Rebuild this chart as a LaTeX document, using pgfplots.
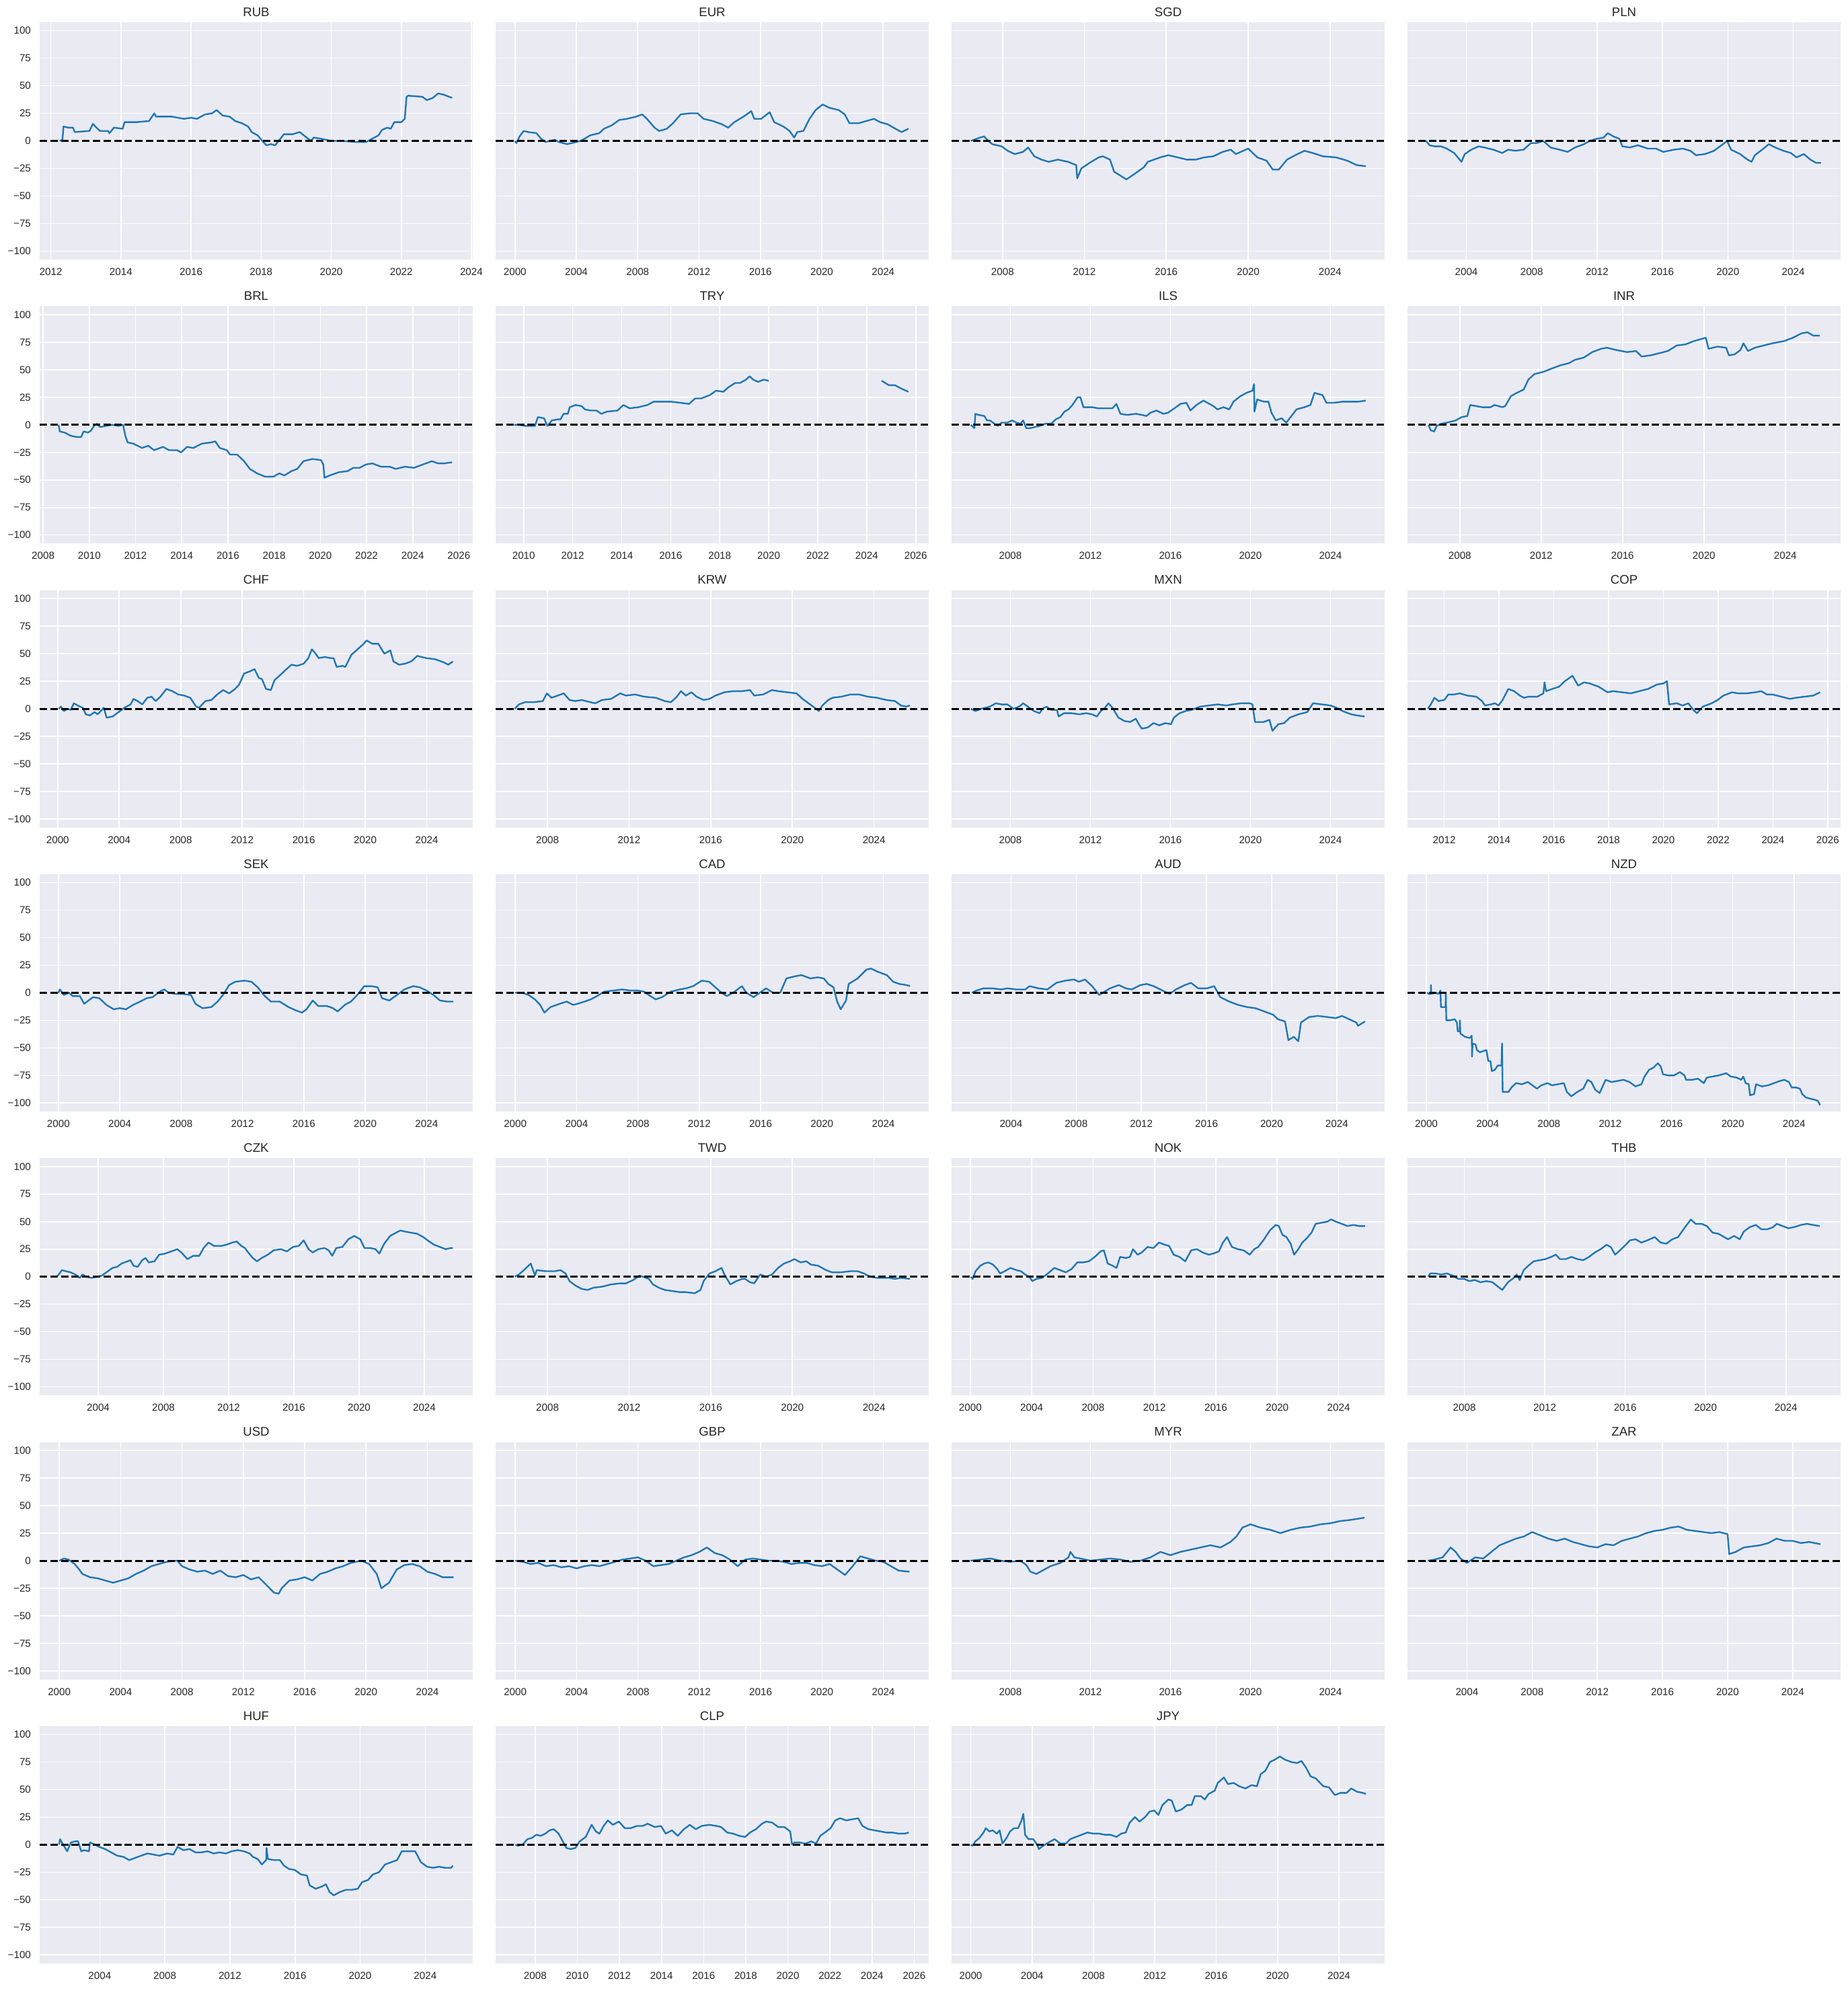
\documentclass[border=0pt]{standalone}
\usepackage{fontspec}
\setmainfont{Liberation Sans}
\usepackage{pgfplots}
\pgfplotsset{compat=1.18}
\definecolor{bgc}{HTML}{EAEAF2}
\definecolor{tickc}{HTML}{262626}
\definecolor{lineblue}{HTML}{1F77B4}
\pgfplotsset{
 panel/.style={
  scale only axis, width=322pt, height=176.5pt, anchor=north west,
  ymin=-107.7, ymax=107.7, ytick={-100,-75,-50,-25,0,25,50,75,100},
  axis background/.style={fill=bgc},
  axis line style={draw=none},
  major tick length=0pt,
  xmajorgrids, ymajorgrids, major grid style={white, line width=0.8pt},
  tick label style={font=\fontsize{7.6}{8}\selectfont, text=tickc},
  scaled x ticks=false,
  xticklabel style={/pgf/number format/1000 sep={}, /pgf/number format/assume math mode=true, yshift=-3pt},
  yticklabel style={xshift=-3pt},
  every axis title shift=0pt,
  title style={font=\fontsize{9.3}{10}\selectfont, text=tickc, at={(0.5,1)}, anchor=base, yshift=4.4pt},
  unbounded coords=jump,
 },
 ylab/.style={yticklabels={−100,−75,−50,−25,0,25,50,75,100}},
 noylab/.style={yticklabels={}},
 series/.style={lineblue, line width=1.2pt, line join=round, mark=none},
 zero/.style={black, line width=1.5pt, dash pattern=on 5.5pt off 2.4pt, mark=none},
}
\begin{document}
\begin{tikzpicture}
\path[use as bounding box] (0,0) rectangle (1373.5pt,-1479pt);
% ---------- Row 1 ----------
\begin{axis}[panel, ylab, at={(29.5pt,-16.5pt)}, title={RUB}, xmin=2011.68, xmax=2024.04, xtick={2012,2014,2016,2018,2020,2022,2024}]
\addplot[series] coordinates {(2012.25,0) (2012.33,1) (2012.36,13) (2012.5,12) (2012.63,12) (2012.68,8) (2013.1,9) (2013.2,15.5) (2013.27,13) (2013.4,9) (2013.63,9) (2013.67,7) (2013.8,12) (2014.05,11) (2014.1,17) (2014.45,17) (2014.8,18) (2014.95,25) (2015.0,22) (2015.45,22) (2015.8,20) (2016.0,21) (2016.17,20) (2016.4,24) (2016.6,25) (2016.73,28) (2016.9,23) (2017.1,22) (2017.26,18) (2017.45,16) (2017.63,13) (2017.73,8) (2017.9,5) (2018.06,-1) (2018.15,-4) (2018.28,-3) (2018.4,-4) (2018.5,0) (2018.65,6) (2018.9,6) (2019.1,8) (2019.3,3) (2019.42,0) (2019.5,3) (2019.7,2) (2020.0,0) (2020.3,0) (2020.7,-1) (2021.0,-1) (2021.17,2) (2021.35,5) (2021.45,10) (2021.6,12) (2021.7,11) (2021.8,17) (2022.0,17) (2022.1,20) (2022.15,40) (2022.2,41) (2022.6,40) (2022.73,37) (2022.9,39) (2023.05,43) (2023.2,42) (2023.45,39)};
\addplot[zero] coordinates {(2011.68,0) (2024.04,0)};
\end{axis}
\begin{axis}[panel, noylab, at={(368.5pt,-16.5pt)}, title={EUR}, xmin=1998.74, xmax=2026.97, xtick={2000,2004,2008,2012,2016,2020,2024}]
\addplot[series] coordinates {(2000.0,0) (2000.1,-2) (2000.3,4) (2000.57,9) (2000.86,8) (2001.4,7) (2001.7,2) (2002.0,-1) (2002.6,1) (2002.86,-1) (2003.4,-3) (2003.7,-2) (2004.3,0) (2004.9,5) (2005.5,7) (2005.8,11) (2006.3,14) (2006.8,19) (2007.3,20) (2007.9,22) (2008.3,24) (2008.6,20) (2009.1,12) (2009.4,9) (2009.9,11) (2010.3,16) (2010.8,24) (2011.4,25) (2011.9,25) (2012.3,20) (2012.9,18) (2013.5,15) (2013.9,12) (2014.3,17) (2014.9,22) (2015.4,27) (2015.6,20) (2016.05,20) (2016.6,26) (2016.9,17) (2017.5,13) (2017.9,9) (2018.2,3) (2018.4,8) (2018.8,9) (2019.2,20) (2019.6,28) (2020.05,33) (2020.5,30) (2021.1,28) (2021.5,24) (2021.8,16) (2022.4,16) (2022.9,18) (2023.4,20) (2023.8,17) (2024.3,15) (2024.8,11) (2025.2,8) (2025.65,11)};
\addplot[zero] coordinates {(1998.74,0) (2026.97,0)};
\end{axis}
\begin{axis}[panel, noylab, at={(707.5pt,-16.5pt)}, title={SGD}, xmin=2005.51, xmax=2026.67, xtick={2008,2012,2016,2020,2024}]
\addplot[series] coordinates {(2006.45,0) (2006.9,3) (2007.1,4) (2007.3,0) (2007.5,-3) (2007.96,-5) (2008.25,-9) (2008.6,-12) (2009.0,-10) (2009.25,-6) (2009.55,-14) (2009.9,-17) (2010.25,-19) (2010.7,-17) (2011.2,-19) (2011.6,-22) (2011.65,-34) (2011.85,-25) (2012.25,-20) (2012.7,-15) (2012.9,-14) (2013.25,-17) (2013.45,-28) (2013.8,-32) (2014.05,-35) (2014.45,-30) (2014.9,-24) (2015.1,-19) (2015.4,-17) (2015.7,-15) (2016.1,-13) (2016.56,-15) (2017.0,-17) (2017.45,-17) (2017.85,-15) (2018.3,-14) (2018.75,-10) (2019.15,-8) (2019.4,-12) (2020.0,-7) (2020.45,-15) (2020.9,-18) (2021.2,-26) (2021.5,-26) (2021.9,-17) (2022.3,-13) (2022.75,-9) (2023.15,-11) (2023.65,-14) (2024.3,-15) (2024.85,-18) (2025.3,-22) (2025.75,-23)};
\addplot[zero] coordinates {(2005.51,0) (2026.67,0)};
\end{axis}
\begin{axis}[panel, noylab, at={(1046.5pt,-16.5pt)}, title={PLN}, xmin=2000.4, xmax=2026.9, xtick={2004,2008,2012,2016,2020,2024}]
\addplot[series] coordinates {(2001.53,0) (2001.75,-4) (2002.07,-5) (2002.45,-5) (2002.8,-7) (2003.25,-11) (2003.7,-19) (2003.9,-12) (2004.3,-8) (2004.75,-5) (2005.1,-6) (2005.65,-8) (2006.2,-11) (2006.55,-8) (2007.0,-9) (2007.5,-8) (2007.95,-2) (2008.3,-2) (2008.7,0) (2009.15,-6) (2009.7,-8) (2010.2,-10) (2010.65,-6) (2011.2,-3) (2011.55,0) (2012.0,2) (2012.4,3) (2012.65,7) (2013.0,4) (2013.35,2) (2013.55,-5) (2014.0,-6) (2014.5,-4) (2015.1,-7) (2015.6,-7) (2016.05,-10) (2016.7,-8) (2017.25,-7) (2017.7,-9) (2018.05,-13) (2018.6,-12) (2019.15,-9) (2019.7,-3) (2019.95,0) (2020.2,-8) (2020.75,-12) (2021.2,-17) (2021.45,-19) (2021.65,-13) (2022.1,-8) (2022.5,-3) (2022.9,-6) (2023.4,-9) (2023.85,-11) (2024.2,-15) (2024.65,-12) (2025.05,-17) (2025.4,-20) (2025.7,-20)};
\addplot[zero] coordinates {(2000.4,0) (2026.9,0)};
\end{axis}
% ---------- Row 2 ----------
\begin{axis}[panel, ylab, at={(29.5pt,-227.65pt)}, title={BRL}, xmin=2007.85, xmax=2026.6, xtick={2008,2010,2012,2014,2016,2018,2020,2022,2024,2026}]
\addplot[series] coordinates {(2008.67,0) (2008.72,-6) (2008.93,-7) (2009.2,-10) (2009.45,-11) (2009.65,-11) (2009.75,-6) (2009.95,-7) (2010.08,-5) (2010.2,-1) (2010.33,1) (2010.46,-2) (2010.72,-1) (2011.0,0) (2011.25,-1) (2011.46,0) (2011.56,-10) (2011.66,-16) (2011.9,-17) (2012.28,-21) (2012.55,-19) (2012.8,-23) (2013.19,-20) (2013.45,-23) (2013.8,-23) (2013.97,-25) (2014.23,-20) (2014.5,-21) (2014.88,-17) (2015.27,-16) (2015.45,-15) (2015.65,-21) (2015.95,-23) (2016.1,-27) (2016.4,-27) (2016.7,-33) (2016.95,-40) (2017.26,-44) (2017.6,-47) (2017.97,-47) (2018.23,-44) (2018.44,-46) (2018.75,-42) (2019.0,-40) (2019.27,-33) (2019.65,-31) (2020.03,-32) (2020.13,-36) (2020.18,-48) (2020.4,-46) (2020.8,-43) (2021.18,-42) (2021.43,-39) (2021.7,-39) (2021.97,-36) (2022.25,-35) (2022.63,-38) (2023.0,-38) (2023.27,-40) (2023.66,-38) (2024.05,-39) (2024.44,-36) (2024.83,-33) (2025.1,-35) (2025.35,-35) (2025.7,-34)};
\addplot[zero] coordinates {(2007.85,0) (2026.6,0)};
\end{axis}
\begin{axis}[panel, noylab, at={(368.5pt,-227.65pt)}, title={TRY}, xmin=2008.855, xmax=2026.53, xtick={2010,2012,2014,2016,2018,2020,2022,2024,2026}]
\addplot[series] coordinates {(2009.61,0) (2009.8,0) (2010.05,-1) (2010.3,-1) (2010.46,-1) (2010.58,7) (2010.83,6) (2010.97,-1) (2011.15,4) (2011.4,5) (2011.5,5) (2011.63,10) (2011.8,10) (2011.88,16) (2012.12,18) (2012.36,17) (2012.5,14) (2012.73,13) (2012.97,13) (2013.17,10) (2013.4,12) (2013.83,13) (2014.07,18) (2014.32,15) (2014.68,16) (2015.05,18) (2015.3,21) (2015.66,21) (2016.02,21) (2016.39,20) (2016.75,19) (2017.0,24) (2017.25,24) (2017.6,27) (2017.85,31) (2018.15,30) (2018.35,34) (2018.63,38) (2018.83,38) (2019.07,41) (2019.22,44) (2019.37,41) (2019.56,39) (2019.8,41) (2020.0,40) (2022.0,nan) (2024.61,40) (2024.9,36) (2025.15,36) (2025.4,33) (2025.7,30)};
\addplot[zero] coordinates {(2008.855,0) (2026.53,0)};
\end{axis}
\begin{axis}[panel, noylab, at={(707.5pt,-227.65pt)}, title={ILS}, xmin=2005.06, xmax=2026.71, xtick={2008,2012,2016,2020,2024}]
\addplot[series] coordinates {(2006.02,0) (2006.2,-3) (2006.25,10) (2006.4,9) (2006.7,8) (2006.83,4) (2006.98,4) (2007.13,2) (2007.36,-1) (2007.56,2) (2007.85,2) (2008.09,4) (2008.3,2) (2008.5,1) (2008.64,4) (2008.79,-3) (2009.0,-3) (2009.22,-2) (2009.46,-1) (2009.75,1) (2010.04,1) (2010.27,5) (2010.5,7) (2010.7,12) (2010.9,14) (2011.1,18) (2011.36,25) (2011.5,25) (2011.65,16) (2011.85,16) (2012.09,16) (2012.38,15) (2012.8,15) (2013.1,15) (2013.3,19) (2013.5,10) (2013.84,9) (2014.28,10) (2014.57,9) (2014.8,8) (2015.0,11) (2015.3,13) (2015.65,10) (2015.88,11) (2016.2,15) (2016.5,19) (2016.8,20) (2017.0,13) (2017.3,18) (2017.65,22) (2017.95,19) (2018.15,17) (2018.35,14) (2018.65,16) (2018.94,14) (2019.15,21) (2019.5,26) (2019.8,29) (2020.1,31) (2020.18,37) (2020.2,12) (2020.33,23) (2020.68,21) (2020.9,21) (2021.05,11) (2021.27,4) (2021.56,6) (2021.79,2) (2022.05,8) (2022.3,14) (2022.7,16) (2023.0,18) (2023.2,29) (2023.6,27) (2023.8,20) (2024.18,20) (2024.6,21) (2025.05,21) (2025.4,21) (2025.76,22)};
\addplot[zero] coordinates {(2005.06,0) (2026.71,0)};
\end{axis}
\begin{axis}[panel, noylab, at={(1046.5pt,-227.65pt)}, title={INR}, xmin=2005.43, xmax=2026.72, xtick={2008,2012,2016,2020,2024}]
\addplot[series] coordinates {(2006.46,0) (2006.57,-5) (2006.74,-6) (2006.86,-1) (2007.09,1) (2007.37,2) (2007.8,4) (2008.09,7) (2008.37,8) (2008.51,18) (2008.8,17) (2009.09,16) (2009.51,16) (2009.71,18) (2010.09,16) (2010.23,17) (2010.51,26) (2010.8,29) (2011.14,32) (2011.37,41) (2011.66,46) (2012.09,48) (2012.51,51) (2012.94,54) (2013.37,56) (2013.66,59) (2014.09,61) (2014.51,66) (2014.94,69) (2015.23,70) (2015.66,68) (2016.23,66) (2016.66,67) (2016.94,62) (2017.37,63) (2017.8,65) (2018.23,67) (2018.66,72) (2019.09,73) (2019.51,76) (2019.89,78) (2020.09,79) (2020.23,69) (2020.66,71) (2021.09,70) (2021.23,63) (2021.51,64) (2021.8,68) (2021.94,74) (2022.17,67) (2022.51,70) (2022.94,72) (2023.37,74) (2023.94,76) (2024.37,79) (2024.8,83) (2025.09,84) (2025.37,81) (2025.7,81)};
\addplot[zero] coordinates {(2005.43,0) (2026.72,0)};
\end{axis}
% ---------- Row 3 ----------
\begin{axis}[panel, ylab, at={(29.5pt,-438.8pt)}, title={CHF}, xmin=1998.83, xmax=2026.99, xtick={2000,2004,2008,2012,2016,2020,2024}]
\addplot[series] coordinates {(2000.08,0) (2000.2,2) (2000.4,-2) (2000.66,0) (2000.85,-1) (2001.05,5) (2001.44,2) (2001.63,1) (2001.83,-5) (2002.1,-6) (2002.4,-3) (2002.6,-5) (2003.0,1) (2003.18,-8) (2003.57,-7) (2003.96,-3) (2004.35,1) (2004.74,4) (2004.93,9) (2005.2,7) (2005.5,4) (2005.83,10) (2006.1,11) (2006.37,7) (2006.68,11) (2007.07,18) (2007.46,16) (2007.84,13) (2008.23,12) (2008.62,10) (2009.0,2) (2009.2,1) (2009.6,7) (2010.0,8) (2010.37,13) (2010.76,17) (2011.15,14) (2011.53,18) (2011.8,22) (2012.12,32) (2012.5,34) (2012.8,36) (2013.08,28) (2013.28,27) (2013.55,18) (2013.86,17) (2014.1,26) (2014.5,31) (2014.8,35) (2015.2,40) (2015.57,39) (2016.0,41) (2016.3,46) (2016.53,54) (2016.77,50) (2016.97,46) (2017.36,47) (2017.75,46) (2017.94,46) (2018.14,38) (2018.52,39) (2018.7,38) (2019.1,49) (2019.5,54) (2019.9,59) (2020.08,62) (2020.47,59) (2020.85,59) (2021.24,50) (2021.63,53) (2021.83,43) (2022.2,40) (2022.6,41) (2022.99,43) (2023.38,48) (2023.96,46) (2024.54,45) (2025.13,42) (2025.4,40) (2025.7,43)};
\addplot[zero] coordinates {(1998.83,0) (2026.99,0)};
\end{axis}
\begin{axis}[panel, noylab, at={(368.5pt,-438.8pt)}, title={KRW}, xmin=2005.46, xmax=2026.68, xtick={2008,2012,2016,2020,2024}]
\addplot[series] coordinates {(2006.4,0) (2006.6,4) (2006.9,6) (2007.33,6) (2007.77,7) (2007.97,14) (2008.2,10) (2008.5,12) (2008.8,14) (2009.08,8) (2009.37,7) (2009.67,8) (2010.1,6) (2010.34,5) (2010.68,8) (2011.12,9) (2011.56,14) (2011.85,12) (2012.3,13) (2012.73,11) (2013.32,10) (2013.75,7) (2014.05,6) (2014.34,11) (2014.54,16) (2014.78,12) (2015.06,15) (2015.3,11) (2015.65,8) (2015.94,9) (2016.23,12) (2016.67,15) (2017.1,16) (2017.54,16) (2017.92,17) (2018.13,12) (2018.57,13) (2019.0,17) (2019.3,16) (2019.74,15) (2020.2,14) (2020.5,9) (2020.94,3) (2021.3,-2) (2021.47,3) (2021.76,8) (2021.96,10) (2022.4,11) (2022.84,13) (2023.27,13) (2023.7,11) (2024.15,10) (2024.6,8) (2025.03,7) (2025.32,3) (2025.56,2) (2025.76,3)};
\addplot[zero] coordinates {(2005.46,0) (2026.68,0)};
\end{axis}
\begin{axis}[panel, noylab, at={(707.5pt,-438.8pt)}, title={MXN}, xmin=2005.06, xmax=2026.71, xtick={2008,2012,2016,2020,2024}]
\addplot[series] coordinates {(2006.02,0) (2006.25,-2) (2006.54,0) (2006.98,2) (2007.27,5) (2007.56,4) (2007.85,4) (2008.15,0) (2008.44,2) (2008.64,5) (2008.87,2) (2009.17,-2) (2009.46,-4) (2009.6,0) (2009.8,2) (2010.04,-1) (2010.33,-1) (2010.41,-7) (2010.68,-4) (2011.05,-4) (2011.44,-5) (2011.79,-4) (2012.08,-5) (2012.32,-7) (2012.52,-2) (2012.73,1) (2012.9,5) (2013.1,1) (2013.4,-8) (2013.69,-11) (2013.98,-12) (2014.27,-9) (2014.42,-14) (2014.57,-18) (2014.86,-17) (2015.15,-13) (2015.45,-15) (2015.74,-13) (2016.03,-14) (2016.17,-8) (2016.46,-4) (2016.76,-2) (2017.05,-1) (2017.49,2) (2017.92,3) (2018.36,4) (2018.8,3) (2019.1,4) (2019.53,5) (2019.97,5) (2020.1,4) (2020.23,-12) (2020.66,-12) (2020.95,-10) (2021.1,-20) (2021.39,-14) (2021.68,-13) (2021.97,-8) (2022.4,-5) (2022.84,-3) (2023.13,5) (2023.57,4) (2024.0,3) (2024.3,1) (2024.6,-2) (2025.03,-5) (2025.32,-6) (2025.7,-7)};
\addplot[zero] coordinates {(2005.06,0) (2026.71,0)};
\end{axis}
\begin{axis}[panel, noylab, at={(1046.5pt,-438.8pt)}, title={COP}, xmin=2010.66, xmax=2026.47, xtick={2012,2014,2016,2018,2020,2022,2024,2026}]
\addplot[series] coordinates {(2011.4,0) (2011.51,4) (2011.64,10) (2011.79,7) (2012.0,8) (2012.15,13) (2012.36,13) (2012.57,14) (2012.85,12) (2013.17,11) (2013.38,7) (2013.49,3) (2013.7,4) (2013.85,5) (2013.98,3) (2014.13,8) (2014.34,18) (2014.55,16) (2014.76,12) (2014.91,10) (2015.08,11) (2015.4,11) (2015.62,14) (2015.66,24) (2015.72,16) (2015.94,18) (2016.19,20) (2016.4,25) (2016.68,30) (2016.89,21) (2017.1,24) (2017.31,23) (2017.64,20) (2017.96,15) (2018.17,16) (2018.49,15) (2018.81,14) (2019.12,16) (2019.44,18) (2019.76,22) (2020.0,23) (2020.13,25) (2020.21,4) (2020.49,5) (2020.7,3) (2020.91,5) (2021.13,-2) (2021.23,-4) (2021.44,2) (2021.76,5) (2021.98,8) (2022.19,12) (2022.51,15) (2022.72,14) (2023.04,14) (2023.36,15) (2023.57,16) (2023.78,13) (2023.98,13) (2024.3,11) (2024.62,9) (2024.83,10) (2025.15,11) (2025.47,12) (2025.72,15)};
\addplot[zero] coordinates {(2010.66,0) (2026.47,0)};
\end{axis}
% ---------- Row 4 ----------
\begin{axis}[panel, ylab, at={(29.5pt,-649.95pt)}, title={SEK}, xmin=1998.78, xmax=2027.01, xtick={2000,2004,2008,2012,2016,2020,2024}]
\addplot[series] coordinates {(2000.0,0) (2000.1,3) (2000.35,-2) (2000.7,0) (2000.93,-3) (2001.4,-3) (2001.68,-10) (2002.26,-4) (2002.67,-5) (2003.13,-11) (2003.6,-15) (2004.0,-14) (2004.4,-15) (2004.87,-11) (2005.33,-8) (2005.74,-5) (2006.14,-4) (2006.6,1) (2006.9,3) (2007.2,0) (2007.65,-1) (2008.06,-1) (2008.64,-2) (2008.93,-10) (2009.4,-14) (2009.97,-13) (2010.38,-8) (2010.78,-1) (2011.13,7) (2011.54,10) (2012.12,11) (2012.58,10) (2012.99,5) (2013.45,-3) (2013.86,-8) (2014.43,-8) (2015.0,-13) (2015.48,-16) (2015.88,-18) (2016.17,-15) (2016.58,-7) (2016.93,-12) (2017.5,-12) (2017.9,-14) (2018.2,-17) (2018.67,-11) (2019.07,-8) (2019.48,-2) (2019.94,6) (2020.4,6) (2020.81,5) (2021.1,-5) (2021.57,-7) (2021.97,-3) (2022.55,3) (2023.13,6) (2023.54,5) (2024.0,2) (2024.45,-2) (2024.87,-7) (2025.33,-8) (2025.74,-8)};
\addplot[zero] coordinates {(1998.78,0) (2027.01,0)};
\end{axis}
\begin{axis}[panel, noylab, at={(368.5pt,-649.95pt)}, title={CAD}, xmin=1998.72, xmax=2026.96, xtick={2000,2004,2008,2012,2016,2020,2024}]
\addplot[series] coordinates {(2000.0,0) (2000.46,0) (2000.87,-2) (2001.28,-6) (2001.62,-11) (2001.9,-18) (2002.3,-13) (2002.9,-10) (2003.36,-8) (2003.77,-11) (2004.06,-10) (2004.52,-8) (2004.93,-6) (2005.33,-3) (2005.8,1) (2006.38,2) (2006.96,3) (2007.54,2) (2008.0,2) (2008.4,1) (2008.8,-3) (2009.16,-6) (2009.57,-4) (2010.14,1) (2010.72,3) (2011.13,4) (2011.6,6) (2012.17,11) (2012.64,10) (2013.04,5) (2013.45,0) (2013.8,-3) (2014.2,0) (2014.78,6) (2015.07,0) (2015.54,-4) (2015.94,0) (2016.35,4) (2016.81,0) (2017.28,0) (2017.68,13) (2018.26,15) (2018.67,16) (2019.25,13) (2019.71,14) (2020.12,13) (2020.41,8) (2020.75,5) (2020.99,-8) (2021.22,-15) (2021.57,-7) (2021.74,8) (2022.32,13) (2022.9,21) (2023.19,22) (2023.65,19) (2024.23,16) (2024.64,10) (2025.04,8) (2025.51,7) (2025.74,6)};
\addplot[zero] coordinates {(1998.72,0) (2026.96,0)};
\end{axis}
\begin{axis}[panel, noylab, at={(707.5pt,-649.95pt)}, title={AUD}, xmin=2000.35, xmax=2026.94, xtick={2004,2008,2012,2016,2020,2024}]
\addplot[series] coordinates {(2001.6,0) (2001.87,2) (2002.31,4) (2002.86,4) (2003.4,3) (2003.78,4) (2004.33,3) (2004.87,3) (2005.14,6) (2005.69,4) (2006.23,3) (2006.78,9) (2007.33,11) (2007.87,12) (2008.16,10) (2008.54,12) (2008.98,6) (2009.41,-2) (2009.63,0) (2010.07,4) (2010.62,7) (2011.05,4) (2011.4,3) (2011.95,7) (2012.33,8) (2012.76,6) (2013.3,2) (2013.74,-1) (2014.12,3) (2014.67,7) (2015.05,9) (2015.49,4) (2016.03,4) (2016.47,6) (2016.85,-4) (2017.4,-8) (2017.94,-11) (2018.49,-13) (2019.0,-14) (2019.56,-17) (2020.1,-20) (2020.38,-24) (2020.82,-26) (2021.03,-43) (2021.36,-40) (2021.64,-44) (2021.8,-27) (2022.3,-22) (2022.84,-21) (2023.4,-22) (2023.94,-23) (2024.32,-21) (2024.76,-24) (2025.2,-27) (2025.3,-30) (2025.73,-26)};
\addplot[zero] coordinates {(2000.35,0) (2026.94,0)};
\end{axis}
\begin{axis}[panel, noylab, at={(1046.5pt,-649.95pt)}, title={NZD}, xmin=1998.77, xmax=2027.04, xtick={2000,2004,2008,2012,2016,2020,2024}]
\addplot[series] coordinates {(2000.04,0) (2000.16,-1) (2000.29,-1) (2000.3,7) (2000.32,-1) (2000.58,0) (2000.78,-1) (2000.92,2) (2000.95,-13) (2001.17,-13) (2001.25,-13) (2001.27,0) (2001.3,-25) (2001.56,-25) (2001.85,-24) (2001.99,-27) (2002.05,-35) (2002.17,-35) (2002.19,-25) (2002.22,-37) (2002.53,-40) (2002.83,-41) (2002.96,-39) (2002.98,-58) (2003.02,-46) (2003.21,-47) (2003.3,-52) (2003.5,-54) (2003.7,-53) (2003.92,-52) (2004.04,-62) (2004.18,-62) (2004.27,-71) (2004.47,-70) (2004.66,-66) (2004.9,-66) (2004.94,-46) (2004.98,-90) (2005.16,-90) (2005.36,-90) (2005.55,-86) (2005.85,-82) (2006.24,-83) (2006.63,-81) (2006.92,-84) (2007.21,-87) (2007.5,-84) (2007.9,-82) (2008.2,-84) (2008.58,-83) (2008.97,-82) (2009.17,-90) (2009.46,-94) (2009.85,-90) (2010.24,-87) (2010.53,-79) (2010.77,-81) (2011.02,-88) (2011.31,-91) (2011.7,-79) (2012.09,-81) (2012.48,-80) (2012.87,-79) (2013.26,-81) (2013.65,-85) (2014.04,-83) (2014.24,-76) (2014.53,-70) (2014.82,-68) (2015.11,-64) (2015.3,-67) (2015.44,-74) (2015.79,-75) (2016.16,-75) (2016.55,-72) (2016.85,-75) (2016.95,-79) (2017.34,-79) (2017.73,-78) (2018.11,-82) (2018.3,-77) (2018.69,-76) (2019.08,-75) (2019.57,-73) (2019.87,-76) (2020.26,-77) (2020.55,-79) (2020.69,-76) (2020.84,-82) (2021.04,-83) (2021.13,-93) (2021.39,-92) (2021.52,-83) (2021.91,-85) (2022.3,-84) (2022.69,-82) (2023.08,-80) (2023.37,-79) (2023.66,-81) (2023.85,-86) (2024.15,-86) (2024.38,-87) (2024.54,-92) (2024.77,-95) (2025.03,-96) (2025.32,-97) (2025.55,-98) (2025.7,-102)};
\addplot[zero] coordinates {(1998.77,0) (2027.04,0)};
\end{axis}
% ---------- Row 5 ----------
\begin{axis}[panel, ylab, at={(29.5pt,-861.1pt)}, title={CZK}, xmin=2000.41, xmax=2026.97, xtick={2004,2008,2012,2016,2020,2024}]
\addplot[series] coordinates {(2001.44,0) (2001.58,2) (2001.77,6) (2002.02,5) (2002.3,4) (2002.6,2) (2002.87,-1) (2003.05,2) (2003.23,0) (2003.6,-1) (2003.96,0) (2004.22,1) (2004.5,4) (2004.88,8) (2005.17,9) (2005.43,12) (2005.8,14) (2005.98,15) (2006.16,10) (2006.42,9) (2006.7,15) (2006.9,17) (2007.1,13) (2007.45,14) (2007.74,20) (2008.1,21) (2008.48,23) (2008.85,25) (2009.1,22) (2009.47,16) (2009.83,19) (2010.2,19) (2010.46,26) (2010.76,31) (2011.1,28) (2011.56,28) (2011.85,29) (2012.22,31) (2012.5,32) (2012.77,28) (2013.0,26) (2013.2,22) (2013.48,17) (2013.73,14) (2014.03,17) (2014.4,20) (2014.77,24) (2015.2,25) (2015.57,23) (2015.94,27) (2016.3,28) (2016.6,33) (2016.9,25) (2017.15,22) (2017.5,25) (2017.88,26) (2018.13,24) (2018.35,19) (2018.6,26) (2018.97,27) (2019.34,34) (2019.7,37) (2020.07,34) (2020.33,26) (2020.7,26) (2021.0,25) (2021.24,21) (2021.54,30) (2021.9,37) (2022.27,40) (2022.53,42) (2022.8,41) (2023.18,40) (2023.56,39) (2023.93,36) (2024.2,33) (2024.6,29) (2024.96,27) (2025.3,25) (2025.6,26) (2025.75,26)};
\addplot[zero] coordinates {(2000.41,0) (2026.97,0)};
\end{axis}
\begin{axis}[panel, noylab, at={(368.5pt,-861.1pt)}, title={TWD}, xmin=2005.46, xmax=2026.68, xtick={2008,2012,2016,2020,2024}]
\addplot[series] coordinates {(2006.4,0) (2006.6,2) (2006.9,7) (2007.18,12) (2007.39,1) (2007.47,6) (2007.91,5) (2008.35,5) (2008.64,6) (2008.88,3) (2009.08,-4) (2009.37,-8) (2009.67,-11) (2009.96,-12) (2010.25,-10) (2010.68,-9) (2011.12,-7) (2011.56,-6) (2011.85,-6) (2012.2,-3) (2012.5,1) (2012.68,0) (2012.97,-2) (2013.17,-7) (2013.46,-10) (2013.75,-12) (2014.13,-13) (2014.49,-14) (2014.78,-14) (2015.22,-15) (2015.5,-12) (2015.65,-4) (2015.94,3) (2016.23,5) (2016.53,8) (2016.67,2) (2016.96,-7) (2017.25,-4) (2017.54,-2) (2017.69,-2) (2017.92,-5) (2018.13,-6) (2018.42,2) (2018.71,0) (2019.0,2) (2019.3,8) (2019.59,12) (2019.88,14) (2020.1,16) (2020.4,13) (2020.68,14) (2020.91,11) (2021.26,10) (2021.65,6) (2021.94,4) (2022.38,4) (2022.82,5) (2023.2,5) (2023.5,3) (2023.8,0) (2024.15,-1) (2024.44,-1) (2024.73,-1) (2025.03,-2) (2025.32,-1) (2025.76,-2)};
\addplot[zero] coordinates {(2005.46,0) (2026.68,0)};
\end{axis}
\begin{axis}[panel, noylab, at={(707.5pt,-861.1pt)}, title={NOK}, xmin=1998.78, xmax=2027.0, xtick={2000,2004,2008,2012,2016,2020,2024}]
\addplot[series] coordinates {(2000.04,0) (2000.15,-2) (2000.34,5) (2000.65,10) (2000.91,12) (2001.18,13) (2001.48,11) (2001.75,7) (2001.94,3) (2002.24,5) (2002.62,8) (2003.0,6) (2003.3,5) (2003.57,2) (2003.84,0) (2004.04,-4) (2004.3,-2) (2004.68,-1) (2005.06,3) (2005.47,8) (2005.85,6) (2006.23,4) (2006.6,7) (2006.97,13) (2007.35,13) (2007.73,14) (2008.11,18) (2008.49,23) (2008.7,24) (2008.95,12) (2009.27,10) (2009.53,8) (2009.76,18) (2010.14,17) (2010.4,18) (2010.6,25) (2010.9,20) (2011.17,22) (2011.55,27) (2011.93,26) (2012.3,31) (2012.68,29) (2012.95,28) (2013.25,20) (2013.63,18) (2014.0,14) (2014.4,24) (2014.77,25) (2015.15,22) (2015.53,20) (2015.83,21) (2016.2,23) (2016.46,31) (2016.73,36) (2017.05,27) (2017.43,25) (2017.81,24) (2018.2,20) (2018.5,25) (2018.76,27) (2019.14,34) (2019.52,42) (2019.9,47) (2020.1,46) (2020.34,38) (2020.6,36) (2020.87,30) (2021.1,20) (2021.37,25) (2021.63,31) (2021.93,35) (2022.23,40) (2022.5,48) (2022.88,49) (2023.26,50) (2023.52,52) (2023.82,50) (2024.2,48) (2024.58,46) (2024.96,47) (2025.34,46) (2025.72,46)};
\addplot[zero] coordinates {(1998.78,0) (2027.0,0)};
\end{axis}
\begin{axis}[panel, noylab, at={(1046.5pt,-861.1pt)}, title={THB}, xmin=2005.17, xmax=2026.72, xtick={2008,2012,2016,2020,2024}]
\addplot[series] coordinates {(2006.2,0) (2006.3,3) (2006.55,3) (2006.84,2) (2007.13,3) (2007.42,1) (2007.7,-2) (2008.0,-2) (2008.23,-4) (2008.52,-3) (2008.8,-5) (2009.1,-4) (2009.4,-5) (2009.6,-8) (2009.88,-12) (2010.17,-5) (2010.46,-1) (2010.6,2) (2010.75,-3) (2010.95,6) (2011.18,10) (2011.45,14) (2011.74,15) (2012.03,16) (2012.32,18) (2012.55,20) (2012.75,16) (2013.04,16) (2013.33,18) (2013.62,16) (2013.91,15) (2014.2,18) (2014.49,22) (2014.78,25) (2015.07,29) (2015.28,27) (2015.5,20) (2015.8,25) (2016.03,29) (2016.23,33) (2016.52,34) (2016.8,31) (2017.1,33) (2017.47,36) (2017.76,31) (2018.05,30) (2018.34,34) (2018.63,36) (2018.98,45) (2019.27,52) (2019.5,48) (2019.8,48) (2020.06,46) (2020.35,40) (2020.64,39) (2020.93,36) (2021.12,34) (2021.42,37) (2021.7,34) (2021.9,41) (2022.2,45) (2022.5,47) (2022.78,43) (2023.07,43) (2023.36,45) (2023.54,48) (2023.83,46) (2024.12,44) (2024.4,45) (2024.75,47) (2025.04,48) (2025.33,47) (2025.68,46)};
\addplot[zero] coordinates {(2005.17,0) (2026.72,0)};
\end{axis}
% ---------- Row 6 ----------
\begin{axis}[panel, ylab, at={(29.5pt,-1072.25pt)}, title={USD}, xmin=1998.72, xmax=2026.96, xtick={2000,2004,2008,2012,2016,2020,2024}]
\addplot[series] coordinates {(2000.0,0) (2000.3,2) (2000.6,1) (2001.0,-3) (2001.3,-8) (2001.5,-12) (2002.0,-15) (2002.5,-16) (2003.0,-18) (2003.5,-20) (2004.0,-18) (2004.5,-16) (2005.0,-12) (2005.5,-9) (2006.0,-5) (2006.5,-3) (2007.0,-1) (2007.7,0) (2008.0,-5) (2008.5,-8) (2009.0,-10) (2009.5,-9) (2010.0,-12) (2010.5,-9) (2011.0,-14) (2011.5,-15) (2012.0,-13) (2012.5,-17) (2013.0,-15) (2013.5,-22) (2014.0,-29) (2014.3,-30) (2014.5,-25) (2015.0,-18) (2015.5,-17) (2016.0,-15) (2016.5,-18) (2017.0,-12) (2017.5,-10) (2018.0,-7) (2018.5,-5) (2019.0,-2) (2019.7,0) (2020.2,-3) (2020.7,-12) (2021.0,-25) (2021.5,-20) (2022.0,-8) (2022.5,-4) (2023.0,-3) (2023.5,-5) (2024.0,-10) (2024.5,-12) (2025.0,-15) (2025.7,-15)};
\addplot[zero] coordinates {(1998.72,0) (2026.96,0)};
\end{axis}
\begin{axis}[panel, noylab, at={(368.5pt,-1072.25pt)}, title={GBP}, xmin=1998.72, xmax=2026.96, xtick={2000,2004,2008,2012,2016,2020,2024}]
\addplot[series] coordinates {(2000.0,0) (2000.5,-1) (2001.0,-3) (2001.5,-2) (2002.0,-5) (2002.5,-4) (2003.0,-6) (2003.5,-5) (2004.0,-7) (2004.5,-5) (2005.0,-4) (2005.5,-5) (2006.0,-3) (2006.5,-1) (2007.0,1) (2007.5,2) (2008.0,3) (2008.5,0) (2009.0,-5) (2009.5,-4) (2010.0,-3) (2010.5,0) (2011.0,3) (2011.5,5) (2012.0,8) (2012.5,12) (2013.0,7) (2013.5,5) (2014.0,1) (2014.5,-5) (2015.0,1) (2015.5,2) (2016.0,1) (2016.5,0) (2017.0,0) (2017.5,-1) (2018.0,-3) (2018.5,-2) (2019.0,-2) (2019.5,-4) (2020.0,-5) (2020.5,-3) (2021.0,-8) (2021.5,-13) (2022.0,-5) (2022.5,4) (2023.0,2) (2023.5,0) (2024.0,-1) (2024.5,-5) (2025.0,-9) (2025.7,-10)};
\addplot[zero] coordinates {(1998.72,0) (2026.96,0)};
\end{axis}
\begin{axis}[panel, noylab, at={(707.5pt,-1072.25pt)}, title={MYR}, xmin=2005.06, xmax=2026.71, xtick={2008,2012,2016,2020,2024}]
\addplot[series] coordinates {(2006.0,0) (2006.5,1) (2007.0,2) (2007.5,0) (2008.0,-1) (2008.5,0) (2008.8,-4) (2009.0,-10) (2009.3,-12) (2009.5,-10) (2010.0,-5) (2010.5,-2) (2010.9,3) (2011.0,8) (2011.2,3) (2011.5,2) (2012.0,0) (2012.5,1) (2013.0,2) (2013.5,1) (2014.0,-1) (2014.5,0) (2015.0,3) (2015.5,8) (2016.0,5) (2016.5,8) (2017.0,10) (2017.5,12) (2018.0,14) (2018.5,12) (2019.0,17) (2019.3,22) (2019.6,30) (2020.0,33) (2020.5,30) (2021.0,28) (2021.5,25) (2022.0,28) (2022.5,30) (2023.0,31) (2023.5,33) (2024.0,34) (2024.5,36) (2025.0,37) (2025.7,39)};
\addplot[zero] coordinates {(2005.06,0) (2026.71,0)};
\end{axis}
\begin{axis}[panel, noylab, at={(1046.5pt,-1072.25pt)}, title={ZAR}, xmin=2000.35, xmax=2026.94, xtick={2004,2008,2012,2016,2020,2024}]
\addplot[series] coordinates {(2001.6,0) (2002.0,1) (2002.5,3) (2003.0,12) (2003.3,8) (2003.6,2) (2004.0,-2) (2004.5,3) (2005.0,2) (2005.5,8) (2006.0,14) (2006.5,17) (2007.0,20) (2007.5,22) (2008.0,26) (2008.5,23) (2009.0,20) (2009.5,18) (2010.0,20) (2010.5,17) (2011.0,15) (2011.5,13) (2012.0,12) (2012.5,15) (2013.0,14) (2013.5,18) (2014.0,20) (2014.5,22) (2015.0,25) (2015.5,27) (2016.0,28) (2016.5,30) (2017.0,31) (2017.5,28) (2018.0,27) (2018.5,26) (2019.0,25) (2019.5,26) (2020.0,24) (2020.1,6) (2020.5,8) (2021.0,12) (2021.5,13) (2022.0,14) (2022.5,16) (2023.0,20) (2023.5,18) (2024.0,18) (2024.5,16) (2025.0,17) (2025.7,15)};
\addplot[zero] coordinates {(2000.35,0) (2026.94,0)};
\end{axis}
% ---------- Row 7 ----------
\begin{axis}[panel, ylab, at={(29.5pt,-1283.4pt)}, title={HUF}, xmin=2000.31, xmax=2026.92, xtick={2004,2008,2012,2016,2020,2024}]
\addplot[series] coordinates {(2001.5,0) (2001.56,5) (2001.75,0) (2002.0,-6) (2002.23,2) (2002.49,3) (2002.67,3) (2002.86,-6) (2003.04,-5) (2003.34,-6) (2003.4,2) (2003.7,0) (2003.96,-2) (2004.33,-4) (2004.7,-7) (2005.07,-10) (2005.44,-11) (2005.81,-14) (2006.18,-12) (2006.55,-10) (2006.93,-8) (2007.3,-9) (2007.67,-10) (2008.15,-8) (2008.52,-9) (2008.78,-2) (2009.14,-5) (2009.51,-4) (2009.88,-7) (2010.25,-7) (2010.63,-6) (2011.0,-8) (2011.37,-7) (2011.74,-8) (2012.11,-6) (2012.48,-5) (2012.85,-6) (2013.22,-8) (2013.4,-11) (2013.7,-13) (2013.96,-18) (2014.23,-14) (2014.25,-3) (2014.33,-13) (2014.7,-14) (2015.07,-14) (2015.32,-19) (2015.62,-22) (2015.99,-23) (2016.36,-27) (2016.73,-28) (2016.9,-37) (2017.27,-40) (2017.64,-38) (2017.9,-36) (2018.12,-43) (2018.38,-46) (2018.75,-43) (2019.12,-41) (2019.49,-41) (2019.86,-40) (2020.12,-34) (2020.49,-32) (2020.79,-27) (2021.16,-25) (2021.53,-18) (2021.9,-16) (2022.27,-14) (2022.56,-6) (2022.93,-6) (2023.38,-6) (2023.74,-16) (2024.11,-20) (2024.48,-21) (2024.85,-20) (2025.22,-21) (2025.59,-21) (2025.7,-19)};
\addplot[zero] coordinates {(2000.31,0) (2026.92,0)};
\end{axis}
\begin{axis}[panel, noylab, at={(368.5pt,-1283.4pt)}, title={CLP}, xmin=2006.12, xmax=2026.69, xtick={2008,2010,2012,2014,2016,2018,2020,2022,2024,2026}]
\addplot[series] coordinates {(2007.06,0) (2007.17,-1) (2007.4,0) (2007.63,5) (2007.83,6) (2008.06,9) (2008.26,8) (2008.48,10) (2008.68,13) (2008.88,14) (2009.11,10) (2009.31,3) (2009.48,-3) (2009.69,-4) (2009.91,-3) (2010.11,3) (2010.4,7) (2010.68,18) (2010.88,12) (2011.05,10) (2011.25,17) (2011.45,22) (2011.69,18) (2011.97,21) (2012.25,15) (2012.54,15) (2012.83,17) (2013.11,17) (2013.34,19) (2013.68,16) (2013.97,17) (2014.2,10) (2014.49,13) (2014.77,8) (2015.06,14) (2015.34,18) (2015.63,14) (2015.91,17) (2016.26,18) (2016.6,17) (2016.83,16) (2017.12,11) (2017.4,10) (2017.69,8) (2017.97,7) (2018.2,11) (2018.48,14) (2018.77,19) (2018.97,21) (2019.26,20) (2019.54,16) (2019.83,16) (2020.11,12) (2020.2,0) (2020.31,2) (2020.54,2) (2020.83,1) (2021.11,3) (2021.34,1) (2021.54,8) (2021.83,12) (2022.03,15) (2022.25,22) (2022.48,24) (2022.77,22) (2023.05,23) (2023.34,24) (2023.54,17) (2023.83,14) (2024.11,13) (2024.4,12) (2024.68,11) (2024.97,11) (2025.26,10) (2025.54,10) (2025.74,11)};
\addplot[zero] coordinates {(2006.12,0) (2026.69,0)};
\end{axis}
\begin{axis}[panel, noylab, at={(707.5pt,-1283.4pt)}, title={JPY}, xmin=1998.75, xmax=2026.98, xtick={2000,2004,2008,2012,2016,2020,2024}]
\addplot[series] coordinates {(2000.0,0) (2000.11,-1) (2000.3,3) (2000.56,6) (2000.83,11) (2000.98,15) (2001.2,12) (2001.43,13) (2001.7,10) (2001.88,13) (2002.07,1) (2002.33,6) (2002.56,12) (2002.83,15) (2003.09,15) (2003.31,22) (2003.43,28) (2003.54,9) (2003.77,5) (2004.07,5) (2004.33,0) (2004.44,-4) (2004.71,-1) (2005.08,2) (2005.46,5) (2005.84,1) (2006.21,1) (2006.48,5) (2006.85,7) (2007.23,9) (2007.6,11) (2008.0,10) (2008.36,10) (2008.74,9) (2009.11,9) (2009.5,7) (2009.8,10) (2010.1,11) (2010.36,20) (2010.7,25) (2011.0,21) (2011.36,25) (2011.66,30) (2011.96,31) (2012.23,27) (2012.5,36) (2012.88,41) (2013.1,40) (2013.37,30) (2013.75,32) (2014.1,36) (2014.4,36) (2014.6,44) (2015.0,44) (2015.25,41) (2015.5,46) (2015.9,49) (2016.1,56) (2016.5,61) (2016.76,55) (2017.14,56) (2017.5,53) (2017.9,51) (2018.3,54) (2018.65,53) (2018.9,64) (2019.2,67) (2019.5,75) (2019.8,77) (2020.15,80) (2020.5,77) (2020.9,75) (2021.27,74) (2021.55,76) (2021.85,70) (2022.15,62) (2022.5,60) (2022.98,53) (2023.35,52) (2023.73,45) (2024.1,47) (2024.5,47) (2024.8,51) (2025.18,48) (2025.55,47) (2025.76,46)};
\addplot[zero] coordinates {(1998.75,0) (2026.98,0)};
\end{axis}
\end{tikzpicture}
\end{document}
